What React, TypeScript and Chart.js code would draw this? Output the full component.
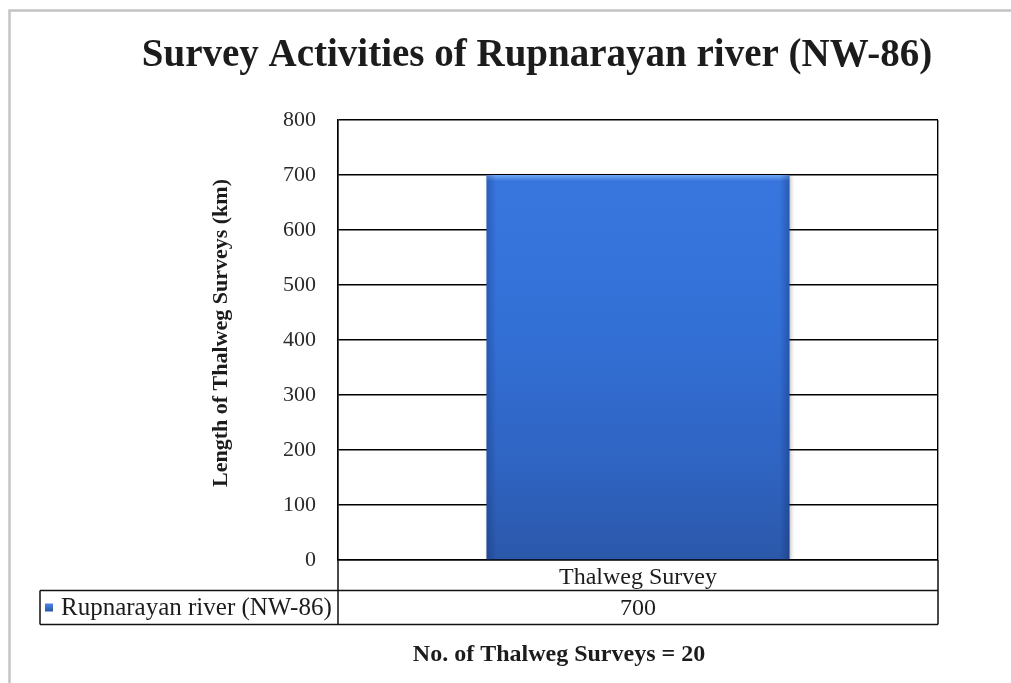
import React, { useEffect, useRef } from "react";
import { Chart, registerables } from "chart.js";

Chart.register(...registerables);

// ---- data ----
const categories = ["Thalweg Survey"];
const seriesName = "Rupnarayan river (NW-86)";
const thalwegLengthKm = [700];
const yMin = 0;
const yMax = 800;
const yStep = 100;
const titleText = "Survey Activities of Rupnarayan river (NW-86)";
const yAxisTitle = "Length of Thalweg Surveys (km)";
const footerText = "No. of Thalweg Surveys = 20";

const SERIF = "'Liberation Serif', 'Times New Roman', serif";
const TEXT = "#1c1c1c";

const decorPlugin = {
  id: "decor",
  beforeDatasetsDraw(chart: any) {
    const ctx = chart.ctx;
    ctx.save();
    ctx.shadowColor = "rgba(0,0,0,0.25)";
    ctx.shadowBlur = 4;
    ctx.shadowOffsetX = 1;
    ctx.shadowOffsetY = 1;
  },
  afterDatasetsDraw(chart: any) {
    const ctx = chart.ctx;
    ctx.restore();
    const meta = chart.getDatasetMeta(0);
    meta.data.forEach((el: any) => {
      const left = el.x - el.width / 2;
      const right = el.x + el.width / 2;
      const top = el.y;
      const bottom = el.base;
      ctx.save();
      // top highlight
      let g = ctx.createLinearGradient(0, top, 0, top + 6);
      g.addColorStop(0, "rgba(140,190,255,0.7)");
      g.addColorStop(1, "rgba(140,190,255,0)");
      ctx.fillStyle = g;
      ctx.fillRect(left, top, el.width, 6);
      // left edge
      g = ctx.createLinearGradient(left, 0, left + 10, 0);
      g.addColorStop(0, "rgba(10,30,90,0.28)");
      g.addColorStop(1, "rgba(10,30,90,0)");
      ctx.fillStyle = g;
      ctx.fillRect(left, top, 10, bottom - top);
      // right edge
      g = ctx.createLinearGradient(right, 0, right - 10, 0);
      g.addColorStop(0, "rgba(10,30,90,0.32)");
      g.addColorStop(1, "rgba(10,30,90,0)");
      ctx.fillStyle = g;
      ctx.fillRect(right - 10, top, 10, bottom - top);
      ctx.restore();
    });
  },
  afterDraw(chart: any) {
    const ctx = chart.ctx;
    const ca = chart.chartArea;
    const W = chart.width;
    const H = chart.height;
    ctx.save();

    // outer frame
    ctx.strokeStyle = "#c4c4c4";
    ctx.lineWidth = 2.5;
    ctx.beginPath();
    ctx.moveTo(9.5, H + 5);
    ctx.lineTo(9.5, 10.5);
    ctx.lineTo(W + 5, 10.5);
    ctx.stroke();

    // title
    ctx.fillStyle = TEXT;
    ctx.font = `bold 39px ${SERIF}`;
    ctx.textAlign = "center";
    ctx.textBaseline = "alphabetic";
    ctx.fillText(titleText, 537, 66);

    // y axis title
    ctx.save();
    ctx.translate(221, 333);
    ctx.rotate(-Math.PI / 2);
    ctx.font = `bold 22px ${SERIF}`;
    ctx.textBaseline = "middle";
    ctx.fillText(yAxisTitle, 0, 0);
    ctx.restore();

    // data table
    const row1Bottom = ca.bottom + 30.5;
    const row2Bottom = ca.bottom + 64.5;
    const tableLeft = 40;
    ctx.strokeStyle = "#111";
    ctx.lineWidth = 1.5;
    ctx.beginPath();
    ctx.moveTo(tableLeft, row1Bottom);
    ctx.lineTo(ca.right, row1Bottom);
    ctx.moveTo(tableLeft, row2Bottom);
    ctx.lineTo(ca.right, row2Bottom);
    ctx.moveTo(tableLeft, row1Bottom);
    ctx.lineTo(tableLeft, row2Bottom);
    ctx.moveTo(ca.left, ca.bottom);
    ctx.lineTo(ca.left, row2Bottom);
    ctx.moveTo(ca.right, ca.bottom);
    ctx.lineTo(ca.right, row2Bottom);
    ctx.stroke();

    const rowMid = (row1Bottom + row2Bottom) / 2;
    // legend key
    const kg = ctx.createLinearGradient(0, rowMid - 4, 0, rowMid + 4);
    kg.addColorStop(0, "#4a86e8");
    kg.addColorStop(1, "#2a56a8");
    ctx.fillStyle = kg;
    ctx.fillRect(45, rowMid - 4, 8, 8);

    ctx.fillStyle = TEXT;
    ctx.font = `25px ${SERIF}`;
    ctx.textAlign = "left";
    ctx.textBaseline = "middle";
    ctx.fillText(chart.data.datasets[0].label, 61, rowMid + 1);

    const xs = chart.scales.x;
    ctx.font = `24px ${SERIF}`;
    ctx.textAlign = "center";
    chart.data.datasets[0].data.forEach((v: number, i: number) => {
      ctx.fillText(String(v), xs.getPixelForValue(i), rowMid + 1);
    });

    // footer
    ctx.font = `bold 24px ${SERIF}`;
    ctx.fillText(footerText, 559, 655);

    ctx.restore();
  },
};

export default function App() {
  const ref = useRef<HTMLCanvasElement | null>(null);

  useEffect(() => {
    if (!ref.current) return;
    const chart = new Chart(ref.current, {
      type: "bar",
      data: {
        labels: categories,
        datasets: [
          {
            label: seriesName,
            data: thalwegLengthKm,
            backgroundColor: (c: any) => {
              const chart = c.chart;
              const ys = chart.scales?.y;
              if (!ys || !chart.chartArea) return "#3370d6";
              const top = ys.getPixelForValue(thalwegLengthKm[0]);
              const bottom = ys.getPixelForValue(0);
              const g = chart.ctx.createLinearGradient(0, top, 0, bottom);
              g.addColorStop(0, "#3876de");
              g.addColorStop(0.4, "#3370d6");
              g.addColorStop(0.75, "#2f64c2");
              g.addColorStop(1, "#2b58aa");
              return g;
            },
            borderWidth: 0,
            barPercentage: 0.505,
            categoryPercentage: 1,
          },
        ],
      },
      options: {
        responsive: false,
        animation: false,
        devicePixelRatio: 1,
        layout: { padding: { top: 120, right: 73, left: 0, bottom: 0 } },
        plugins: {
          legend: { display: false },
          title: { display: false },
          tooltip: { enabled: false },
        },
        scales: {
          x: {
            grid: { color: "#000", lineWidth: 1.4, drawTicks: false, offset: true },
            border: { color: "#000", width: 1.5 },
            ticks: {
              font: { family: SERIF, size: 24 },
              color: TEXT,
              padding: 3,
            },
            afterFit: (s: any) => {
              s.height = 123;
            },
          },
          y: {
            min: yMin,
            max: yMax,
            ticks: {
              stepSize: yStep,
              font: { family: SERIF, size: 22 },
              color: "#2a2a2a",
              padding: 22,
            },
            grid: { color: "#000", lineWidth: 1.4, drawTicks: false },
            border: { color: "#000", width: 1.5 },
            afterFit: (s: any) => {
              s.width = 338;
            },
          },
        },
      },
      plugins: [decorPlugin],
    });
    return () => chart.destroy();
  }, []);

  return (
    <div style={{ position: "absolute", left: 0, top: 0, width: 1011, height: 683, background: "#fff" }}>
      <canvas ref={ref} width={1011} height={683} style={{ display: "block" }} />
    </div>
  );
}
